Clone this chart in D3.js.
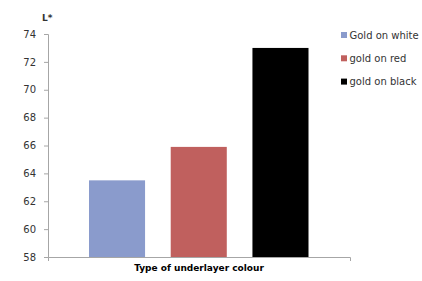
<!DOCTYPE html>
<html>
<head>
<meta charset="utf-8">
<script src="https://cdn.jsdelivr.net/npm/d3@7"></script>
<style>
body { margin: 0; background: #fff; }
text { font-family: "DejaVu Sans", sans-serif; }
</style>
</head>
<body>
<svg></svg>
<script>
let series = ['Gold on white', 'gold on red', 'gold on black']
let values = [63.5, 65.9, 73.0]
let colors = ['#8A9BCC', '#C0605E', '#000000']
let yTicks = [58, 60, 62, 64, 66, 68, 70, 72, 74]
let category = 'Type of underlayer colour'

let w = 422
let h = 281

let svg = d3.select('svg').attr('width', w).attr('height', h)

let yScale = d3.scaleLinear().domain([58, 74]).range([257, 34])

let groupScale = d3.scaleBand().domain([category]).range([48, 350])
let xScale = d3.scaleBand().domain(series)
  .range([89, 308.5])
  .paddingInner(0.314)
  .paddingOuter(0)

// bars
svg.selectAll('rect.bar')
  .data(series)
  .enter()
  .append('rect')
  .attr('class', 'bar')
  .attr('x', (d) => xScale(d))
  .attr('width', xScale.bandwidth())
  .attr('y', (d, i) => yScale(values[i]))
  .attr('height', (d, i) => yScale(58) - yScale(values[i]))
  .attr('fill', (d, i) => colors[i])

// y axis
let yAxis = d3.axisLeft(yScale).tickValues(yTicks).tickSize(4).tickPadding(8)
let gy = svg.append('g')
  .attr('transform', 'translate(48, 0)')
  .call(yAxis)
gy.select('.domain').attr('stroke', '#a6a6a6')
gy.selectAll('.tick line').attr('stroke', '#a6a6a6')
gy.selectAll('.tick text').attr('fill', '#333').style('font-size', '10px')

// x axis
let xAxis = d3.axisBottom(groupScale).tickSize(0).tickFormat('')
let gx = svg.append('g')
  .attr('transform', 'translate(0, 257)')
  .call(xAxis)
gx.select('.domain').attr('stroke', '#a6a6a6').attr('d', 'M48.5,4V0.5H350.5V4')

svg.append('text')
  .attr('x', groupScale(category) + groupScale.bandwidth() / 2)
  .attr('y', 271)
  .attr('text-anchor', 'middle')
  .style('font-size', '9px')
  .style('font-weight', 'bold')
  .attr('fill', '#000')
  .text(category)

// y label
svg.append('text')
  .attr('x', 42)
  .attr('y', 21)
  .style('font-size', '9px')
  .style('font-weight', 'bold')
  .attr('fill', '#333')
  .text('L*')

// legend
let legend = svg.selectAll('g.legend')
  .data(series)
  .enter()
  .append('g')
  .attr('class', 'legend')
  .attr('transform', (d, i) => 'translate(341, ' + (35 + i * 23.3) + ')')

legend.append('rect')
  .attr('x', 0)
  .attr('y', -3)
  .attr('width', 6)
  .attr('height', 6)
  .attr('fill', (d, i) => colors[i])

legend.append('text')
  .attr('x', 8.5)
  .attr('y', 3.5)
  .style('font-size', '10px')
  .attr('fill', '#333')
  .text((d) => d)
</script>
</body>
</html>
